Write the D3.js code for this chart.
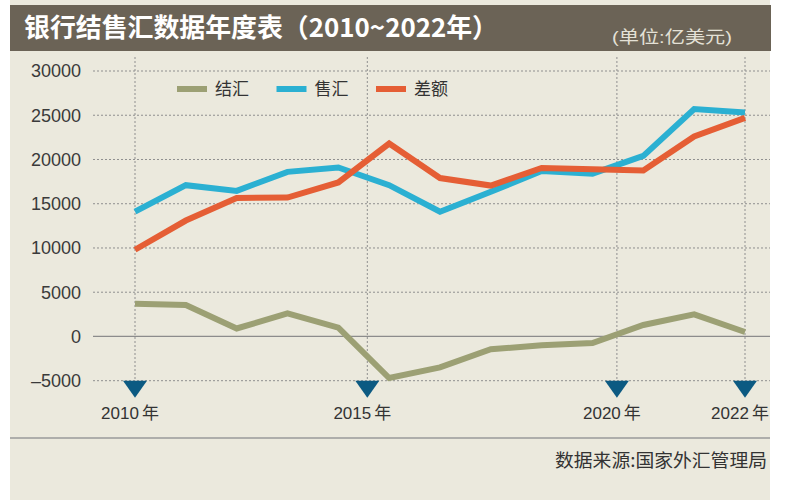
<!DOCTYPE html>
<html>
<head>
<meta charset="utf-8">
<script src="https://cdn.jsdelivr.net/npm/d3@7"></script>
<style>
  body { margin: 0; background: #fff; }
  svg text { font-family: "Noto Sans CJK SC", "Liberation Sans", sans-serif; }
</style>
</head>
<body>
<svg id="chart" width="786" height="500"></svg>
<script>
// data (unit: 100 million USD)
var years = [2010, 2011, 2012, 2013, 2014, 2015, 2016, 2017, 2018, 2019, 2020, 2021, 2022];
var jiehui = [3700, 3550, 900, 2600, 1000, -4700, -3500, -1450, -1000, -750, 1300, 2500, 500];
var shouhui = [14100, 17100, 16450, 18600, 19100, 17100, 14100, 16350, 18700, 18400, 20400, 25700, 25300];
var chae = [9800, 13100, 15650, 15700, 17400, 21800, 17900, 17050, 19050, 18900, 18750, 22600, 24700];
var yTicks = [30000, 25000, 20000, 15000, 10000, 5000, 0, -5000];
var yearLabels = ["2010", "2015", "2020", "2022"];
// where the year markers sit on the printed x axis (in years)
var yearMarks = [2010, 2014.57, 2019.48, 2022];

var series = [
    {name: "结汇", values: jiehui, color: "#9ca074"},
    {name: "售汇", values: shouhui, color: "#2bb0d2"},
    {name: "差额", values: chae, color: "#e55e35"}
];

var svg = d3.select("#chart");

// panel + title bar
svg.append("rect")
    .attr("x", 10).attr("y", 0)
    .attr("width", 760).attr("height", 500)
    .attr("fill", "#ebe9dd");

svg.append("rect")
    .attr("x", 10).attr("y", 5)
    .attr("width", 761).attr("height", 46)
    .attr("fill", "#6b6356");

svg.append("text")
    .attr("x", 24).attr("y", 37)
    .attr("fill", "#fff")
    .style("font-size", "26px")
    .style("font-weight", "bold")
    .attr("textLength", 474)
    .attr("lengthAdjust", "spacingAndGlyphs")
    .text("银行结售汇数据年度表（2010~2022年）");

svg.append("text")
    .attr("x", 732).attr("y", 43)
    .attr("text-anchor", "end")
    .attr("fill", "#e4e1d6")
    .style("font-family", "'Liberation Sans', 'Noto Sans CJK SC', sans-serif")
    .style("font-size", "17px")
    .attr("textLength", 120)
    .attr("lengthAdjust", "spacingAndGlyphs")
    .text("(单位:亿美元)");

var x = d3.scaleLinear().domain([2010, 2022]).range([135, 745]);
var y = d3.scaleLinear().domain([-5000, 30000]).range([380.7, 71]);

// horizontal grid
svg.append("g")
    .selectAll("line")
    .data(yTicks)
    .enter()
    .append("line")
    .attr("x1", 93).attr("x2", 770)
    .attr("y1", function (d) { return y(d); })
    .attr("y2", function (d) { return y(d); })
    .attr("stroke", function (d) { return d == 0 ? "#8c8c8c" : "#8f8f8f"; })
    .attr("stroke-width", function (d) { return d == 0 ? 1.3 : 1; })
    .attr("stroke-dasharray", function (d) { return d == 0 ? null : "2,2"; });

svg.append("g")
    .selectAll("text")
    .data(yTicks)
    .enter()
    .append("text")
    .attr("x", 81)
    .attr("y", function (d) { return y(d); })
    .attr("dy", "0.36em")
    .attr("text-anchor", "end")
    .attr("fill", "#3a3a3a")
    .style("font-family", "'Liberation Sans', sans-serif")
    .style("font-size", "18px")
    .text(function (d) { return d < 0 ? "\u2013" + Math.abs(d) : d; });

// vertical year markers
var marks = svg.append("g")
    .selectAll("g")
    .data(yearMarks)
    .enter()
    .append("g")
    .attr("transform", function (d) { return "translate(" + x(d) + ",0)"; });

marks.append("line")
    .attr("x1", 0).attr("x2", 0)
    .attr("y1", 57).attr("y2", y(-5000))
    .attr("stroke", "#8f8f8f")
    .attr("stroke-dasharray", "2,2");

marks.append("path")
    .attr("d", "M-12," + y(-5000) + "L12," + y(-5000) + "L0," + (y(-5000) + 17) + "Z")
    .attr("fill", "#0c5a82");

var yl = marks.append("text")
    .attr("x", -5)
    .attr("y", 419)
    .attr("text-anchor", "middle")
    .attr("fill", "#333")
    .style("font-family", "'Liberation Sans', 'Noto Sans CJK SC', sans-serif")
    .style("font-size", "17px");
yl.append("tspan").text(function (d, i) { return yearLabels[i]; });
yl.append("tspan").attr("dx", 3).text("年");

// series lines
var line = d3.line()
    .x(function (d, i) { return x(years[i]); })
    .y(function (d) { return y(d); });

svg.append("g")
    .selectAll("path")
    .data(series)
    .enter()
    .append("path")
    .attr("d", function (d) { return line(d.values); })
    .attr("fill", "none")
    .attr("stroke", function (d) { return d.color; })
    .attr("stroke-width", 6);

// legend
var legend = svg.append("g")
    .selectAll("g")
    .data(series)
    .enter()
    .append("g")
    .attr("transform", function (d, i) { return "translate(" + (177 + i * 99.5) + ",89)"; });

legend.append("line")
    .attr("x1", 0).attr("x2", 30)
    .attr("stroke", function (d) { return d.color; })
    .attr("stroke-width", 6);

legend.append("text")
    .attr("x", 38)
    .attr("dy", "0.36em")
    .attr("fill", "#333")
    .style("font-size", "17px")
    .text(function (d) { return d.name; });

// bottom rule + source
svg.append("line")
    .attr("x1", 10).attr("x2", 770)
    .attr("y1", 438).attr("y2", 438)
    .attr("stroke", "#9a9a9a")
    .attr("stroke-width", 1.3);

svg.append("text")
    .attr("x", 767).attr("y", 467)
    .attr("text-anchor", "end")
    .attr("fill", "#333")
    .style("font-size", "18px")
    .attr("textLength", 212)
    .attr("lengthAdjust", "spacingAndGlyphs")
    .text("数据来源:国家外汇管理局");
</script>
</body>
</html>
